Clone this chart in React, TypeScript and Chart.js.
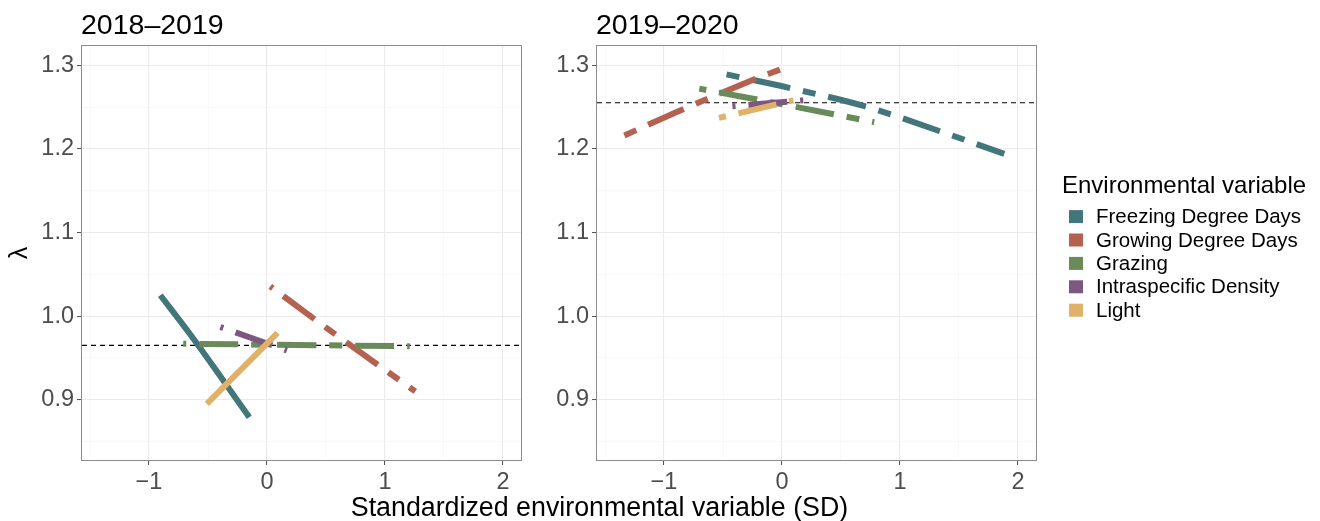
import React, { useEffect, useRef } from "react";
import { Chart, registerables } from "chart.js";

Chart.register(...registerables);

const W = 1320;
const H = 521;
const FONT = "'Liberation Sans', Arial, Helvetica, sans-serif";

// ---------- labels ----------
const panelTitles = ["2018–2019", "2019–2020"];
const xAxisTitle = "Standardized environmental variable (SD)";
const yAxisTitle = "λ";
const legendTitle = "Environmental variable";
const variables = [
  "Freezing Degree Days",
  "Growing Degree Days",
  "Grazing",
  "Intraspecific Density",
  "Light",
];
const varColors = ["#42767b", "#b5614f", "#6a8a5a", "#7c5881", "#dfb169"];

// ---------- axes ----------
const xTickValues = [-1.5, -1, -0.5, 0, 0.5, 1, 1.5, 2];
const xMajor = [-1, 0, 1, 2];
const xTickLabels = ["−1", "0", "1", "2"];
const yTickValues = [0.85, 0.9, 0.95, 1.0, 1.05, 1.1, 1.15, 1.2, 1.25, 1.3];
const yMajor = [0.9, 1.0, 1.1, 1.2, 1.3];
const yTickLabels = ["0.9", "1.0", "1.1", "1.2", "1.3"];
const X_MIN = -1.568;
const X_MAX = 2.153;
const Y_MIN = 0.828;
const Y_MAX = 1.323;

// ---------- panel 1: 2018–2019 ----------
const p1FreezingX = [-0.904, -0.65, -0.4, -0.15];
const p1FreezingY = [1.025, 0.978, 0.929, 0.879];
const p1GrowingX = [0.028, 0.64, 1.257];
const p1GrowingY = [1.0355, 0.972, 0.91];
const p1GrazingX = [-0.71, 0.25, 1.21];
const p1GrazingY = [0.967, 0.9655, 0.964];
const p1DensityX = [-0.395, 0.169];
const p1DensityY = [0.987, 0.959];
const p1LightX = [-0.51, 0.09];
const p1LightY = [0.895, 0.98];
const p1Reference = 0.965;

// ---------- panel 2: 2019–2020 ----------
const p2FreezingX = [-0.47, 0.06, 0.7, 1.32, 1.884];
const p2FreezingY = [1.289, 1.273, 1.251, 1.222, 1.194];
const p2GrowingX = [-1.336, -0.828, -0.22, -0.014];
const p2GrowingY = [1.216, 1.248, 1.284, 1.295];
const p2GrazingX = [-0.701, 0.05, 0.782];
const p2GrazingY = [1.272, 1.252, 1.232];
const p2DensityX = [-0.42, 0.18];
const p2DensityY = [1.251, 1.258];
const p2LightX = [-0.534, 0.097];
const p2LightY = [1.237, 1.258];
const p2Reference = 1.2552;

const TWODASH = [13, 13, 39, 13];
const LW = 6;

function isMajor(v: number | undefined, majors: number[]) {
  if (v === undefined) return false;
  return majors.some((m) => Math.abs(m - v) < 1e-6);
}

function series(
  label: string,
  xs: number[],
  ys: number[],
  color: string,
  dash: number[],
  offset: number,
  order: number
) {
  return {
    label,
    data: xs.map((x, i) => ({ x, y: ys[i] })),
    borderColor: color,
    backgroundColor: color,
    borderWidth: LW,
    borderDash: dash,
    borderDashOffset: offset,
    borderCapStyle: "butt",
    borderJoinStyle: "round",
    pointRadius: 0,
    tension: 0.35,
    fill: false,
    order,
  };
}

function reference(value: number) {
  return {
    label: "reference",
    data: [
      { x: X_MIN, y: value },
      { x: X_MAX, y: value },
    ],
    borderColor: "#000000",
    borderWidth: 1.1,
    borderDash: [5, 4],
    pointRadius: 0,
    fill: false,
    order: 10,
  };
}

function makeOptions(left: number, right: number, padLeft: number, showYTitle: boolean) {
  const top = 46;
  const bottom = 460;
  return {
    responsive: false,
    animation: false,
    events: [],
    layout: { padding: { left: padLeft, right: W - right, top, bottom: 0 } },
    plugins: {
      legend: { display: false },
      tooltip: { enabled: false },
      title: { display: false },
    },
    scales: {
      x: {
        type: "linear",
        min: X_MIN,
        max: X_MAX,
        afterBuildTicks: (s: any) => {
          s.ticks = xTickValues.map((v) => ({ value: v }));
        },
        afterFit: (s: any) => {
          s.height = H - bottom;
        },
        border: { display: false },
        grid: {
          color: (c: any) => (isMajor(c.tick?.value, xMajor) ? "#ebebeb" : "#f3f3f3"),
          lineWidth: (c: any) => (isMajor(c.tick?.value, xMajor) ? 1.1 : 0.6),
          tickColor: (c: any) => (isMajor(c.tick?.value, xMajor) ? "#4d4d4d" : "rgba(0,0,0,0)"),
          tickWidth: 1,
          tickLength: 5,
        },
        ticks: {
          autoSkip: false,
          maxRotation: 0,
          padding: 3,
          color: "#4d4d4d",
          font: { family: FONT, size: 23.5 },
          callback: (v: number) => {
            const i = xMajor.findIndex((m) => Math.abs(m - v) < 1e-6);
            return i >= 0 ? xTickLabels[i] : "";
          },
        },
      },
      y: {
        type: "linear",
        min: Y_MIN,
        max: Y_MAX,
        afterBuildTicks: (s: any) => {
          s.ticks = yTickValues.map((v) => ({ value: v }));
        },
        afterFit: (s: any) => {
          s.width = left - padLeft;
        },
        border: { display: false },
        title: {
          display: showYTitle,
          text: yAxisTitle,
          color: "#000000",
          font: { family: FONT, size: 25 },
          padding: { top: 5, bottom: 0 },
        },
        grid: {
          color: (c: any) => (isMajor(c.tick?.value, yMajor) ? "#ebebeb" : "#f3f3f3"),
          lineWidth: (c: any) => (isMajor(c.tick?.value, yMajor) ? 1.1 : 0.6),
          tickColor: (c: any) => (isMajor(c.tick?.value, yMajor) ? "#4d4d4d" : "rgba(0,0,0,0)"),
          tickWidth: 1,
          tickLength: 5,
        },
        ticks: {
          autoSkip: false,
          padding: 3,
          color: "#4d4d4d",
          font: { family: FONT, size: 23.5 },
          callback: (v: number) => {
            const i = yMajor.findIndex((m) => Math.abs(m - v) < 1e-6);
            return i >= 0 ? yTickLabels[i] : "";
          },
        },
      },
    },
  };
}

function decorPlugin(title: string, withLegend: boolean) {
  return {
    id: "panelDecor",
    afterDraw(chart: any) {
      const { ctx, chartArea: a } = chart;
      ctx.save();
      ctx.strokeStyle = "#8c8c8c";
      ctx.lineWidth = 1;
      ctx.strokeRect(a.left - 0.5, a.top - 0.5, a.right - a.left + 1, a.bottom - a.top + 1);

      ctx.fillStyle = "#000000";
      ctx.textAlign = "left";
      ctx.textBaseline = "alphabetic";
      ctx.font = `28.5px ${FONT}`;
      ctx.fillText(title, a.left - 1, 33.5);

      if (withLegend) {
        ctx.font = `24px ${FONT}`;
        ctx.fillText(legendTitle, 1062, 193);
        variables.forEach((v, i) => {
          const cy = 216.6 + i * 23.4;
          ctx.fillStyle = varColors[i];
          ctx.fillRect(1069, cy - 6.5, 14, 13);
          ctx.fillStyle = "#000000";
          ctx.font = `20.5px ${FONT}`;
          ctx.fillText(v, 1096, cy + 6.5);
        });
        ctx.textAlign = "center";
        ctx.font = `26.8px ${FONT}`;
        ctx.fillText(xAxisTitle, 599.5, 516);
      }
      ctx.restore();
    },
  };
}

export default function App() {
  const ref1 = useRef<HTMLCanvasElement>(null);
  const ref2 = useRef<HTMLCanvasElement>(null);

  useEffect(() => {
    const c1 = new Chart(ref1.current as HTMLCanvasElement, {
      type: "line",
      data: {
        datasets: [
          reference(p1Reference),
          series(variables[0], p1FreezingX, p1FreezingY, varColors[0], [], 0, 5),
          series(variables[1], p1GrowingX, p1GrowingY, varColors[1], TWODASH, 10, 4),
          series(variables[2], p1GrazingX, p1GrazingY, varColors[2], TWODASH, 10, 3),
          series(variables[3], p1DensityX, p1DensityY, varColors[3], TWODASH, 10, 2),
          series(variables[4], p1LightX, p1LightY, varColors[4], [], 0, 1),
        ] as any,
      },
      options: makeOptions(82, 521, 0, true) as any,
      plugins: [decorPlugin(panelTitles[0], false)],
    });
    const c2 = new Chart(ref2.current as HTMLCanvasElement, {
      type: "line",
      data: {
        datasets: [
          reference(p2Reference),
          series(variables[0], p2FreezingX, p2FreezingY, varColors[0], TWODASH, 0, 5),
          series(variables[1], p2GrowingX, p2GrowingY, varColors[1], TWODASH, 0, 4),
          series(variables[2], p2GrazingX, p2GrazingY, varColors[2], TWODASH, 6, 3),
          series(variables[3], p2DensityX, p2DensityY, varColors[3], TWODASH, 10, 2),
          series(variables[4], p2LightX, p2LightY, varColors[4], TWODASH, 6, 1),
        ] as any,
      },
      options: makeOptions(597, 1036, 540, false) as any,
      plugins: [decorPlugin(panelTitles[1], true)],
    });
    return () => {
      c1.destroy();
      c2.destroy();
    };
  }, []);

  const canvasStyle: React.CSSProperties = {
    position: "absolute",
    left: 0,
    top: 0,
    width: W,
    height: H,
  };

  return (
    <div
      style={{
        position: "fixed",
        left: 0,
        top: 0,
        width: W,
        height: H,
        background: "#ffffff",
        overflow: "hidden",
      }}
    >
      <canvas ref={ref1} width={W} height={H} style={canvasStyle} />
      <canvas ref={ref2} width={W} height={H} style={canvasStyle} />
    </div>
  );
}
